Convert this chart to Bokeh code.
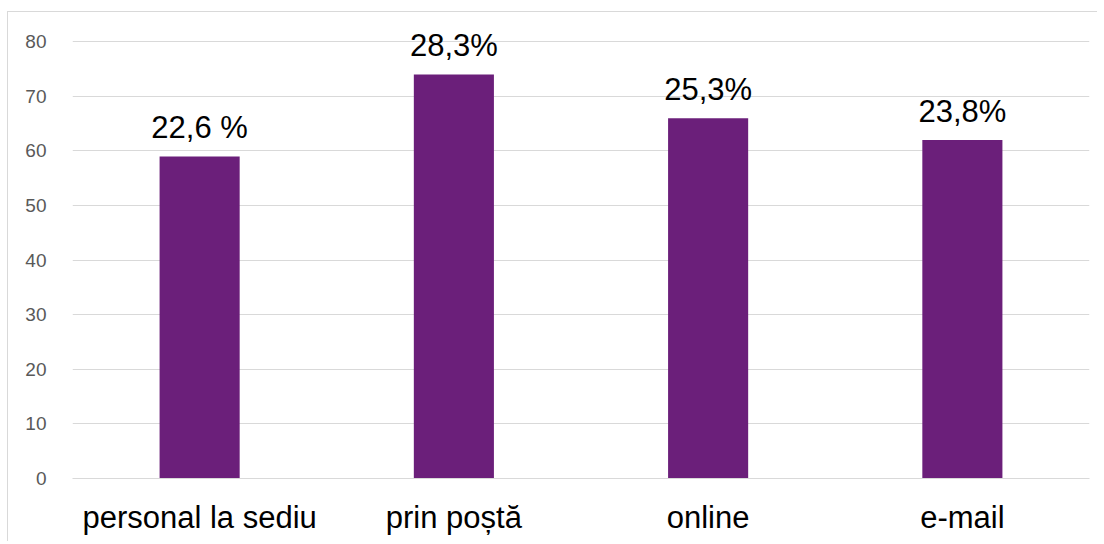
from bokeh.plotting import figure
from bokeh.models import ColumnDataSource, FixedTicker, Range1d
from bokeh.core.properties import value
from bokeh.embed import file_html
from bokeh.resources import INLINE

categories = ["personal la sediu", "prin poștă", "online", "e-mail"]
values = [59, 74, 66, 62]
labels = ["22,6 %", "28,3%", "25,3%", "23,8%"]
y_ticks = [0, 10, 20, 30, 40, 50, 60, 70, 80]

FONT = "Liberation Sans"

src = ColumnDataSource(dict(cat=categories, val=values, lab=labels))

p = figure(x_range=categories, y_range=Range1d(0, 85), width=1090, height=530,
           output_backend="svg", toolbar_location=None,
           min_border_left=64, min_border_right=9, min_border_top=2, min_border_bottom=64)
p.styles = {"border-left": "1px solid #d9d9d9", "border-top": "1px solid #d9d9d9",
            "margin-left": "7px", "margin-top": "11px"}
p.outline_line_color = None
p.background_fill_color = "white"
p.border_fill_color = "white"

p.vbar(x="cat", top="val", width=0.315, source=src, color="#6B1F7A", line_color=None)
p.text(x="cat", y="val", text="lab", source=src, text_align="center", text_baseline="alphabetic",
       y_offset=-29, text_font=value(FONT), text_font_size="31px", text_color="black")

p.xgrid.grid_line_color = None
p.ygrid.grid_line_color = "#d9d9d9"
p.ygrid.grid_line_width = 1
p.yaxis.ticker = FixedTicker(ticks=y_ticks)
p.yaxis.axis_line_color = None
p.yaxis.major_tick_line_color = None
p.yaxis.minor_tick_line_color = None
p.yaxis.major_label_text_font = FONT
p.yaxis.major_label_text_font_size = "19px"
p.yaxis.major_label_text_color = "#595959"
p.yaxis.major_label_standoff = 20

p.xaxis.axis_line_color = "#d9d9d9"
p.xaxis.major_tick_line_color = None
p.xaxis.minor_tick_line_color = None
p.xaxis.major_label_text_font = FONT
p.xaxis.major_label_text_font_size = "31px"
p.xaxis.major_label_text_color = "black"
p.xaxis.major_label_standoff = 15

open("out.html", "w").write(file_html(p, INLINE))
